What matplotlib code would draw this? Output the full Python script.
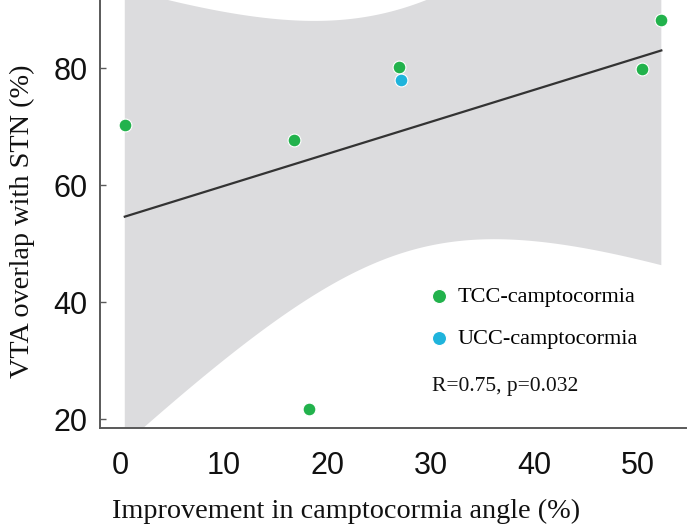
import matplotlib
matplotlib.use("Agg")
import matplotlib.pyplot as plt
import numpy as np

# Data
tcc_x = [0.4, 16.8, 26.9, 50.4, 52.3, 18.2]
tcc_y = [70.3, 67.7, 80.3, 79.9, 88.3, 21.7]
ucc_x = [27.1]
ucc_y = [78.0]
x_ticks = [0, 10, 20, 30, 40, 50]
y_ticks = [20, 40, 60, 80]
stat_text = "R=0.75, p=0.032"

GREEN = "#22b24c"
BLUE = "#1fb4dc"
BAND = "#dcdcde"
SPINE = "#595959"

# linear fit on all points with a 95% confidence band (t, df=5)
all_x = np.array(tcc_x + ucc_x)
all_y = np.array(tcc_y + ucc_y)
n = len(all_x)
slope, intercept = np.polyfit(all_x, all_y, 1)
resid = all_y - (slope * all_x + intercept)
s = np.sqrt(np.sum(resid ** 2) / (n - 2))
sxx = np.sum((all_x - all_x.mean()) ** 2)
t_crit = 2.5706
grid = np.linspace(all_x.min(), all_x.max(), 200)
fit = slope * grid + intercept
half = t_crit * s * np.sqrt(1.0 / n + (grid - all_x.mean()) ** 2 / sxx)

fig = plt.figure(figsize=(6.88, 5.27), dpi=100, facecolor="white")
ax = fig.add_axes([0.1453, 0.1873, 0.852, 0.8127])

ax.fill_between(grid, fit - half, fit + half, color=BAND, linewidth=0, zorder=1)
ax.plot(grid, fit, color="#333333", linewidth=1.6, zorder=2)

ax.scatter(tcc_x, tcc_y, s=85, color=GREEN, edgecolor="white", linewidth=0.8,
           zorder=3, label="TCC-camptocormia")
ax.scatter(ucc_x, ucc_y, s=85, color=BLUE, edgecolor="white", linewidth=0.8,
           zorder=3, label="UCC-camptocormia")

ax.set_xlim(-2.0, 54.7)
ax.set_ylim(18.45, 91.7)

for side in ("top", "right"):
    ax.spines[side].set_visible(False)
for side in ("left", "bottom"):
    ax.spines[side].set_color(SPINE)
    ax.spines[side].set_linewidth(1.4)

sans = "Liberation Sans"
serif = "Liberation Serif"

ax.set_xticks(x_ticks)
ax.set_xticklabels([str(v) for v in x_ticks], fontfamily=sans, fontsize=22, color="#111111")
ax.set_xticks([0, 20, 40], minor=True)
ax.tick_params(axis="x", which="major", length=0, pad=16)
ax.tick_params(axis="x", which="minor", direction="in", length=3, width=1, color=SPINE)

ax.set_yticks(y_ticks)
ax.set_yticklabels([str(v) for v in y_ticks], fontfamily=sans, fontsize=22, color="#111111")
ax.tick_params(axis="y", direction="in", length=4, width=1, color=SPINE, pad=9)

ax.set_xlabel("Improvement in camptocormia angle (%)", fontfamily=serif,
              fontsize=20.3, color="#111111")
ax.xaxis.set_label_coords(0.42, -0.165)
ax.set_ylabel("VTA overlap with STN (%)", fontfamily=serif,
              fontsize=20.3, color="#111111")
ax.yaxis.set_label_coords(-0.11, 0.484)

leg = ax.legend(loc="upper left", bbox_to_anchor=(0.5345, 0.352), frameon=False,
                prop={"family": serif, "size": 16}, handlelength=1.5,
                handletextpad=0.1, labelspacing=0.95, markerscale=1.1,
                borderaxespad=0)

ax.text(0.567, 0.097, stat_text, transform=ax.transAxes, fontfamily=serif,
        fontsize=15.5, color="#111111", va="center", ha="left")

fig.savefig("out.png", dpi=100, facecolor="white")
